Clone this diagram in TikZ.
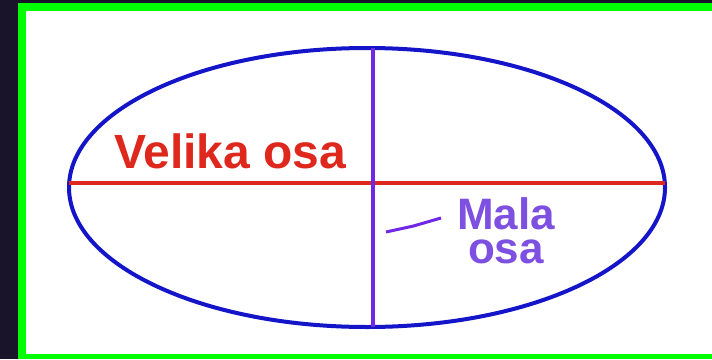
\documentclass[tikz,border=0pt]{standalone}
\usepackage{fontspec}
\setmainfont{Liberation Sans}
\usetikzlibrary{shapes.geometric,calc}
\definecolor{bgdark}{RGB}{26,20,42}
\definecolor{frame}{RGB}{0,255,0}
\definecolor{ellblue}{RGB}{20,20,200}
\definecolor{axred}{RGB}{222,40,30}
\definecolor{axpurple}{RGB}{110,40,230}
\definecolor{lblpurple}{RGB}{125,80,225}
\tikzset{
  orbit/.style={draw=ellblue,line width=4pt,ellipse,minimum width=596pt,minimum height=279pt,inner sep=0pt},
  majoraxis/.style={draw=axred,line width=3.4pt},
  minoraxis/.style={draw=axpurple,line width=3.4pt},
  redlabel/.style={text=axred,font=\bfseries\fontsize{48}{48}\selectfont,inner sep=0pt,anchor=base west},
  purplelabel/.style={text=lblpurple,font=\bfseries\fontsize{44}{44}\selectfont,inner sep=0pt,anchor=base},
  pointer/.style={draw=axpurple,line width=3pt}
}
\begin{document}
\begin{tikzpicture}[x=1pt,y=-1pt]
\useasboundingbox (0,0) rectangle (712,359);
\fill[bgdark] (0,0) rectangle (712,359);
\fill[frame] (18,3) rectangle (712,359);
\fill[white] (26,11) rectangle (712,354);
\node[orbit] (orb) at (367,187.5) {};
\coordinate (mL) at (69,183);
\coordinate (mR) at (665,183);
\coordinate (nT) at (373,48);
\coordinate (nB) at (373,327);
\draw[majoraxis] (mL) -- (mR);
\draw[minoraxis] (nT) -- (nB);
\node[redlabel] (vel) at (114,168) {Velika osa};
\node[purplelabel] (mala) at (506,229) {Mala};
\node[purplelabel] (osa) at (506,263) {osa};
\coordinate (p1) at (386,232);
\coordinate (p2) at (441,218);
\draw[pointer] (p1) -- ($(p1)!0.5!(p2)+(0,1)$) -- (p2);
\end{tikzpicture}
\end{document}
